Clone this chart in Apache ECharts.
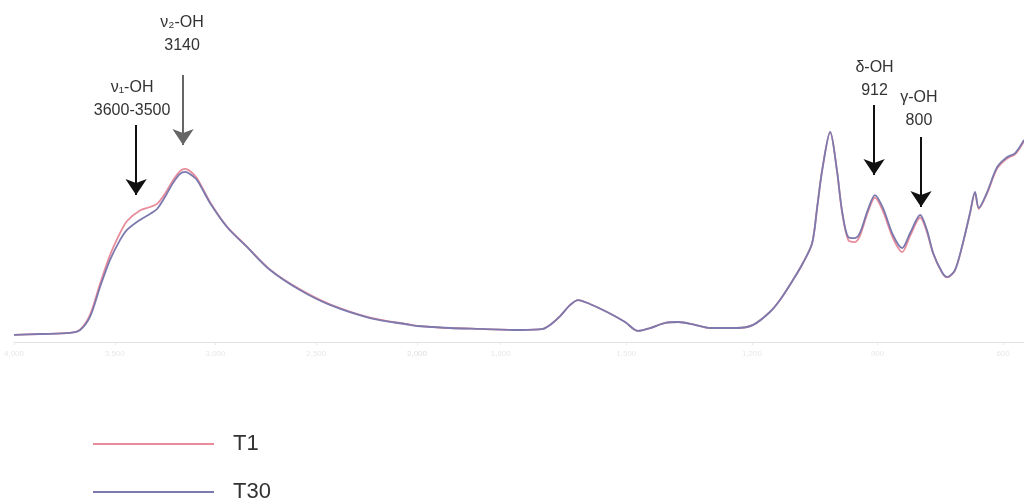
<!DOCTYPE html>
<html>
<head>
<meta charset="utf-8">
<script src="https://cdn.jsdelivr.net/npm/echarts@6/dist/echarts.min.js"></script>
<style>html,body{margin:0;padding:0;background:#fff}#c{width:1024px;height:499px}</style>
</head>
<body>
<div id="c"></div>
<script>
// Wavenumber (cm-1) and absorbance (a.u.)
var waveA = [4000,3871,3722,3672,3623,3573,3524,3474,3439,3375,3325,3290,3251,3211,3176,3151,3127,3092,3027,2943,2844,2729,2581,2432,2233,2035,2000];
var t30A  = [0.032,0.036,0.041,0.054,0.113,0.248,0.369,0.459,0.505,0.550,0.577,0.599,0.653,0.716,0.757,0.766,0.757,0.730,0.626,0.518,0.428,0.324,0.234,0.167,0.108,0.077,0.072];
var t1A   = [0.032,0.036,0.041,0.056,0.122,0.262,0.390,0.490,0.545,0.592,0.608,0.622,0.668,0.728,0.770,0.780,0.770,0.738,0.630,0.520,0.430,0.326,0.237,0.170,0.110,0.078,0.073];

var waveB = [2000,1921,1849,1754,1699,1682,1658,1634,1615,1587,1546,1503,1472,1443,1407,1376,1336,1300,1236,1197,1157,1133,1102,1078,1056,1044,1032,1013,997,985,970,954,942,923,906,887,863,841,822,798,782,767,746,734,715,696,679,667,658,639,614,590,571,550];
var t30B  = [0.072,0.063,0.059,0.054,0.059,0.077,0.117,0.167,0.189,0.171,0.135,0.090,0.050,0.063,0.086,0.090,0.077,0.063,0.063,0.077,0.135,0.189,0.279,0.356,0.446,0.608,0.775,0.946,0.775,0.595,0.473,0.468,0.491,0.595,0.662,0.604,0.482,0.423,0.491,0.572,0.505,0.401,0.315,0.293,0.324,0.446,0.581,0.676,0.604,0.671,0.788,0.833,0.851,0.910];
var t1B   = [0.073,0.063,0.059,0.054,0.059,0.077,0.117,0.167,0.189,0.171,0.135,0.090,0.050,0.063,0.086,0.090,0.077,0.063,0.063,0.077,0.135,0.189,0.279,0.356,0.446,0.608,0.775,0.946,0.775,0.590,0.460,0.450,0.478,0.585,0.650,0.590,0.468,0.405,0.478,0.560,0.495,0.398,0.313,0.291,0.322,0.444,0.579,0.672,0.600,0.666,0.782,0.828,0.846,0.905];

var seriesNames = ['T1','T30'];
var colors = ['#e88c9c','#7b79ad'];

// Annotations: arrow at wavenumber w from value top to tip; label block centred at (lw, lv)
var annotA = [
  {w:3394, top:0.977, tip:0.662, color:'#111', label:'ν₁-OH\n3600-3500', lw:3414, lv:1.095},
  {w:3161, top:1.203, tip:0.887, color:'#666', label:'ν₂-OH\n3140', lw:3166, lv:1.387}
];
var annotB = [
  {w:908, top:1.068, tip:0.752, color:'#111', label:'δ-OH\n912', lw:907, lv:1.185},
  {w:796, top:0.923, tip:0.608, color:'#111', label:'γ-OH\n800', lw:801, lv:1.050}
];

function pairs(w, v){ return w.map(function(x,i){ return [x, v[i]]; }); }

function marks(list){
  return {
    markLine: {
      silent: true, symbol: ['none','arrow'], symbolSize: [16,16],
      label: {show:false},
      data: list.map(function(a){
        return [{coord:[a.w,a.top], lineStyle:{color:a.color,width:2,type:'solid'}, itemStyle:{color:a.color}},
                {coord:[a.w,a.tip]}];
      })
    },
    markPoint: {
      silent: true, symbol: 'circle', symbolSize: 1,
      itemStyle: {color:'rgba(0,0,0,0)'},
      label: {show:true, position:'inside', color:'#333', fontSize:16, lineHeight:23,
              fontFamily:'Liberation Sans, Arial, sans-serif', align:'center'},
      data: list.map(function(a){ return {coord:[a.lw,a.lv], value:a.label, label:{formatter:a.label}}; })
    }
  };
}

var axisCommon = {
  type:'value', inverse:true,
  axisLine:{show:true, lineStyle:{color:'#e2e2e2', width:1}},
  axisTick:{show:true, length:3, lineStyle:{color:'#e8e8e8'}},
  axisLabel:{color:'#e8e8e8', fontSize:8},
  splitLine:{show:false}
};
var yCommon = {type:'value', min:0, max:1.5, show:false};

function mkSeries(name, idx, data, color, extra){
  var s = {name:name, type:'line', xAxisIndex:idx, yAxisIndex:idx, data:data,
    showSymbol:false, smooth:0.3, lineStyle:{color:color, width:1.8}, itemStyle:{color:color},
    z: name==='T30'?3:2, animation:false};
  if (extra) for (var k in extra) s[k]=extra[k];
  return s;
}

function mkLegend(name, top){
  return {
    data:[name], orient:'vertical', left:93, top:top, padding:0,
    icon:'rect', itemWidth:121, itemHeight:2,
    textStyle:{fontSize:22, color:'#333', fontFamily:'Liberation Sans, Arial, sans-serif', padding:[0,0,0,14]}
  };
}

var chart = echarts.init(document.getElementById('c'));
chart.setOption({
  animation:false,
  backgroundColor:'#fff',
  grid:[
    {left:14, width:403, top:9, height:333},
    {left:417, right:0, top:9, height:333}
  ],
  xAxis:[
    Object.assign({gridIndex:0, min:2000, max:4000, interval:500}, axisCommon),
    Object.assign({gridIndex:1, min:550, max:2000}, axisCommon, {axisLabel:{color:'#e8e8e8', fontSize:8, showMinLabel:false}})
  ],
  yAxis:[Object.assign({gridIndex:0}, yCommon), Object.assign({gridIndex:1}, yCommon)],
  legend:[mkLegend(seriesNames[0], 433), mkLegend(seriesNames[1], 481)],
  series:[
    mkSeries('T1',0,pairs(waveA,t1A),colors[0]),
    mkSeries('T30',0,pairs(waveA,t30A),colors[1], marks(annotA)),
    mkSeries('T1',1,pairs(waveB,t1B),colors[0]),
    mkSeries('T30',1,pairs(waveB,t30B),colors[1], marks(annotB))
  ]
});
</script>
</body>
</html>
